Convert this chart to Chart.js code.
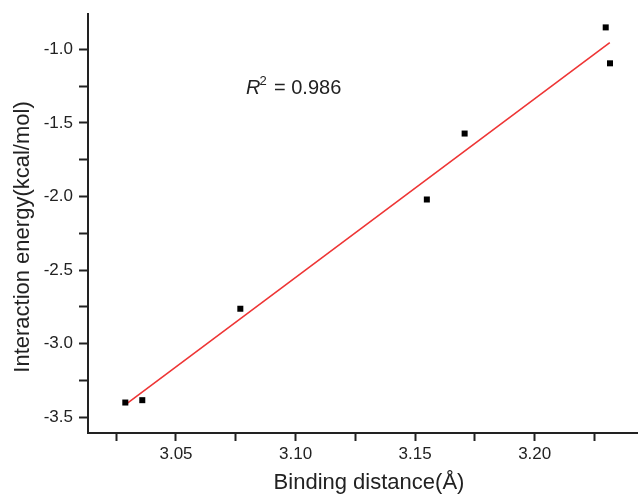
<!DOCTYPE html>
<html>
<head>
<meta charset="utf-8">
<script src="https://cdn.jsdelivr.net/npm/chart.js@4"></script>
<style>
  html, body { margin: 0; padding: 0; background: #fff; }
  #wrap { width: 638px; height: 494px; position: relative; }
</style>
</head>
<body>
<div id="wrap"><canvas id="chart"></canvas></div>
<script>
// measured points
const distance = [3.0288, 3.0359, 3.0769, 3.1549, 3.1707, 3.2297, 3.2315];
const energy = [-3.399, -3.383, -2.762, -2.020, -1.572, -0.851, -1.095];

// linear fit drawn as a segment
const fitX = [3.0290, 3.2314];
const fitY = [-3.412, -0.955];

const xRange = [3.0132, 3.2432];
const yRange = [-3.606, -0.76];
const xStep = 0.025;
const yStep = 0.25;
const rSquared = '0.986';

const FONT = 'Arial, "Liberation Sans", sans-serif';
const INK = '#222';

const isMajor = (v, per) => Math.abs(v * per - Math.round(v * per)) < 1e-6;

// axis titles + R^2 note
const textPlugin = {
  id: 'texts',
  afterDraw(chart) {
    const ctx = chart.ctx;
    const area = chart.chartArea;
    ctx.save();
    ctx.fillStyle = INK;

    ctx.font = '22px ' + FONT;
    ctx.textAlign = 'center';
    ctx.textBaseline = 'alphabetic';
    ctx.fillText('Binding distance(Å)', 369, 489);

    ctx.translate(29, 237);
    ctx.rotate(-Math.PI / 2);
    ctx.fillText('Interaction energy(kcal/mol)', 0, 0);
    ctx.restore();

    ctx.save();
    ctx.fillStyle = INK;
    ctx.textAlign = 'left';
    ctx.textBaseline = 'alphabetic';
    let x = area.left + 158;
    const base = 94;
    ctx.font = 'italic 20px ' + FONT;
    ctx.fillText('R', x, base);
    x += ctx.measureText('R').width;
    ctx.font = '13px ' + FONT;
    ctx.fillText('2', x - 1, base - 9);
    ctx.font = '20px ' + FONT;
    ctx.fillText('= ' + rSquared, 274, base);
    ctx.restore();
  }
};

new Chart(document.getElementById('chart'), {
  type: 'scatter',
  data: {
    datasets: [
      {
        label: 'data',
        data: distance.map((d, i) => ({ x: d, y: energy[i] })),
        pointStyle: 'rect',
        pointRadius: 4.25,
        pointHoverRadius: 4.25,
        backgroundColor: '#000',
        borderColor: '#000',
        borderWidth: 0,
        order: 1
      },
      {
        label: 'fit',
        data: fitX.map((d, i) => ({ x: d, y: fitY[i] })),
        showLine: true,
        pointRadius: 0,
        borderColor: '#ee3535',
        borderWidth: 1.6,
        fill: false,
        order: 2
      }
    ]
  },
  options: {
    responsive: true,
    maintainAspectRatio: false,
    animation: false,
    layout: { autoPadding: false, padding: { top: 14, right: 0, left: 0, bottom: 0 } },
    plugins: {
      legend: { display: false },
      tooltip: { enabled: false }
    },
    scales: {
      x: {
        type: 'linear',
        min: xRange[0],
        max: xRange[1],
        afterFit: s => { s.height = 61; s.paddingLeft = 0; s.paddingRight = 0; },
        border: { display: true, color: INK, width: 2 },
        grid: { drawOnChartArea: false, drawTicks: true, tickLength: 8, tickColor: INK, tickWidth: 2 },
        ticks: {
          stepSize: xStep,
          includeBounds: false,
          autoSkip: false,
          maxRotation: 0,
          padding: 3,
          color: INK,
          font: { family: FONT, size: 17 },
          callback: v => isMajor(v, 20) ? v.toFixed(2) : ''
        }
      },
      y: {
        type: 'linear',
        min: yRange[0],
        max: yRange[1],
        afterFit: s => { s.width = 88; s.paddingTop = 0; s.paddingBottom = 0; },
        border: { display: true, color: INK, width: 2 },
        grid: { drawOnChartArea: false, drawTicks: true, tickLength: 9, tickColor: INK, tickWidth: 2 },
        ticks: {
          stepSize: yStep,
          includeBounds: false,
          autoSkip: false,
          padding: 6,
          color: INK,
          font: { family: FONT, size: 17 },
          callback: v => isMajor(v, 2) ? v.toFixed(1) : ''
        }
      }
    }
  },
  plugins: [textPlugin]
});
</script>
</body>
</html>
